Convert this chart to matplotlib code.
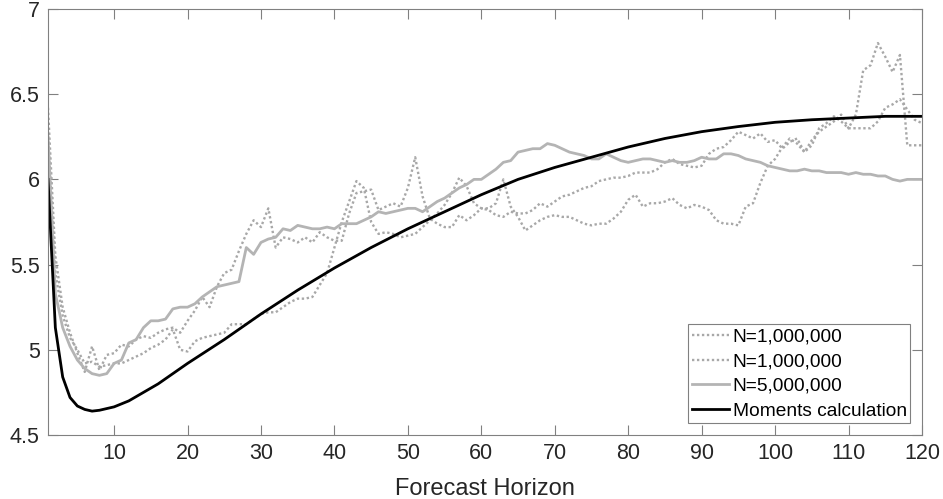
import matplotlib
matplotlib.use('Agg')
import matplotlib.pyplot as plt
import numpy as np

plt.rcParams['font.family'] = ['Liberation Sans', 'DejaVu Sans']

# forecast horizon 1..120
horizon = np.arange(1, 121)

# first N=1,000,000 run (dotted)
run1_1m = [6.42, 5.55, 5.25, 5.10, 4.98, 4.87, 5.02, 4.88, 4.97, 4.98,
           5.03, 5.02, 5.06, 5.08, 5.07, 5.10, 5.12, 5.13, 5.10, 5.17,
           5.23, 5.31, 5.25, 5.37, 5.45, 5.47, 5.58, 5.68, 5.76, 5.72,
           5.83, 5.60, 5.66, 5.65, 5.63, 5.66, 5.63, 5.69, 5.66, 5.64,
           5.64, 5.80, 5.92, 5.93, 5.94, 5.82, 5.84, 5.86, 5.84, 5.95,
           6.13, 5.90, 5.77, 5.74, 5.72, 5.72, 5.79, 5.76, 5.79, 5.83,
           5.83, 5.86, 6.00, 5.84, 5.78, 5.70, 5.73, 5.76, 5.78, 5.79,
           5.78, 5.78, 5.76, 5.74, 5.73, 5.74, 5.74, 5.77, 5.81, 5.88,
           5.91, 5.84, 5.86, 5.86, 5.87, 5.89, 5.85, 5.83, 5.85, 5.84,
           5.82, 5.76, 5.74, 5.74, 5.73, 5.84, 5.86, 5.98, 6.08, 6.12,
           6.19, 6.24, 6.21, 6.16, 6.23, 6.28, 6.31, 6.34, 6.38, 6.30,
           6.38, 6.64, 6.67, 6.80, 6.72, 6.63, 6.73, 6.20, 6.20, 6.20]

# second N=1,000,000 run (dotted)
run2_1m = [6.28, 5.45, 5.20, 5.07, 5.00, 4.92, 4.93, 4.90, 4.91, 4.92,
           4.92, 4.94, 4.96, 4.98, 5.01, 5.03, 5.06, 5.12, 5.00, 4.99,
           5.05, 5.07, 5.08, 5.09, 5.10, 5.15, 5.15, 5.15, 5.18, 5.21,
           5.22, 5.22, 5.25, 5.28, 5.30, 5.30, 5.31, 5.38, 5.45, 5.60,
           5.75, 5.87, 5.99, 5.95, 5.75, 5.68, 5.69, 5.68, 5.66, 5.67,
           5.68, 5.72, 5.76, 5.80, 5.85, 5.92, 6.01, 5.96, 5.86, 5.83,
           5.82, 5.79, 5.78, 5.81, 5.80, 5.80, 5.82, 5.86, 5.84, 5.87,
           5.90, 5.91, 5.93, 5.95, 5.96, 5.99, 6.00, 6.01, 6.01, 6.02,
           6.04, 6.04, 6.04, 6.06, 6.10, 6.12, 6.09, 6.08, 6.07, 6.08,
           6.15, 6.18, 6.19, 6.23, 6.28, 6.26, 6.24, 6.27, 6.22, 6.23,
           6.18, 6.22, 6.24, 6.16, 6.20, 6.30, 6.33, 6.37, 6.34, 6.30,
           6.30, 6.30, 6.30, 6.34, 6.42, 6.44, 6.47, 6.41, 6.35, 6.33]

# N=5,000,000 run (solid gray)
run_5m = [6.25, 5.33, 5.13, 5.02, 4.94, 4.89, 4.86, 4.85, 4.86, 4.92,
          4.94, 5.04, 5.06, 5.13, 5.17, 5.17, 5.18, 5.24, 5.25, 5.25,
          5.27, 5.31, 5.34, 5.37, 5.38, 5.39, 5.40, 5.60, 5.56, 5.63,
          5.65, 5.66, 5.71, 5.70, 5.73, 5.72, 5.71, 5.71, 5.72, 5.71,
          5.74, 5.74, 5.74, 5.76, 5.78, 5.81, 5.80, 5.81, 5.82, 5.83,
          5.83, 5.81, 5.84, 5.87, 5.89, 5.92, 5.95, 5.97, 6.00, 6.00,
          6.03, 6.06, 6.10, 6.11, 6.16, 6.17, 6.18, 6.18, 6.21, 6.20,
          6.18, 6.16, 6.15, 6.14, 6.12, 6.12, 6.15, 6.13, 6.11, 6.10,
          6.11, 6.12, 6.12, 6.11, 6.10, 6.11, 6.10, 6.10, 6.11, 6.13,
          6.12, 6.12, 6.15, 6.15, 6.14, 6.12, 6.11, 6.10, 6.08, 6.07,
          6.06, 6.05, 6.05, 6.06, 6.05, 6.05, 6.04, 6.04, 6.04, 6.03,
          6.04, 6.03, 6.03, 6.02, 6.02, 6.00, 5.99, 6.00, 6.00, 6.00]

# moments calculation (smooth black)
moments_x = [1, 2, 3, 4, 5, 6, 7, 8, 9, 10, 12, 14, 16, 18, 20, 25, 30, 35,
             40, 45, 50, 55, 60, 65, 70, 75, 80, 85, 90, 95, 100, 105, 110,
             115, 120]
moments_y = [6.00, 5.13, 4.84, 4.72, 4.67, 4.65, 4.64, 4.645, 4.655, 4.665,
             4.70, 4.75, 4.80, 4.86, 4.92, 5.06, 5.21, 5.35, 5.48, 5.60,
             5.71, 5.81, 5.91, 6.00, 6.07, 6.13, 6.19, 6.24, 6.28, 6.31,
             6.335, 6.35, 6.36, 6.37, 6.37]

labels = ['N=1,000,000', 'N=1,000,000', 'N=5,000,000', 'Moments calculation']

fig = plt.figure(figsize=(9.43, 4.99), dpi=100)
ax = fig.add_axes([0.0509, 0.1283, 0.9268, 0.8537])

gray = '#a8a8a8'
ax.plot(horizon, run1_1m, color=gray, lw=1.7, linestyle=(0, (1, 1.1)), label=labels[0])
ax.plot(horizon, run2_1m, color=gray, lw=1.7, linestyle=(0, (1, 1.1)), label=labels[1])
ax.plot(horizon, run_5m, color='#b4b4b4', lw=2.0, label=labels[2])
ax.plot(moments_x, moments_y, color='black', lw=2.0, label=labels[3])

ax.set_xlim(1, 120)
ax.set_ylim(4.5, 7)
ax.set_xticks(np.arange(10, 121, 10))
ax.set_yticks([4.5, 5, 5.5, 6, 6.5, 7])
ax.set_yticklabels(['4.5', '5', '5.5', '6', '6.5', '7'])
ax.tick_params(direction='in', top=True, right=True, length=7, width=0.8,
               color='#808080', labelsize=15.5, labelcolor='#262626', pad=6)
for s in ax.spines.values():
    s.set_color('#808080')
    s.set_linewidth(0.8)

ax.set_xlabel('Forecast Horizon', fontsize=17, color='#262626', labelpad=10)

leg = ax.legend(loc='lower right', fontsize=13.8, fancybox=False, framealpha=1,
                edgecolor='#808080', handlelength=1.9, handletextpad=0.2,
                labelspacing=0.38, borderpad=0.2, borderaxespad=0.6)
leg.get_frame().set_linewidth(0.8)

fig.savefig('out.png', dpi=100)
